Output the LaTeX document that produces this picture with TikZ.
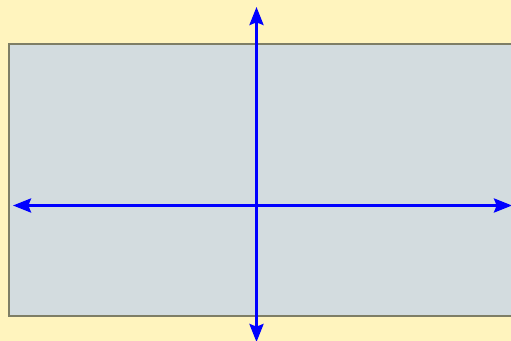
\documentclass[tikz,border=0pt]{standalone}
\usetikzlibrary{arrows.meta}
\definecolor{bgyellow}{HTML}{FFF4BE}
\definecolor{panelfill}{HTML}{D3DCDF}
\definecolor{panelborder}{HTML}{7E7E66}
\tikzset{
  axis/.style={draw=blue, line width=2.25pt, {Stealth[length=13.5pt, width=10.5pt, inset=2pt]}-{Stealth[length=13.5pt, width=10.5pt, inset=2pt]}},
  panel/.style={fill=panelfill, draw=panelborder, line width=1.5pt}
}
\begin{document}
\begin{tikzpicture}[x=0.75pt, y=-0.75pt]
\useasboundingbox (0,0) rectangle (511,341);
\fill[bgyellow] (0,0) rectangle (511,341);
\draw[panel] (9,44) rectangle (530,316);
\coordinate (left) at (13,205.5);
\coordinate (right) at (512,205.5);
\coordinate (top) at (256.5,7);
\coordinate (bottom) at (256.5,342);
\draw[axis] (left) -- (right);
\draw[axis] (top) -- (bottom);
\end{tikzpicture}
\end{document}
